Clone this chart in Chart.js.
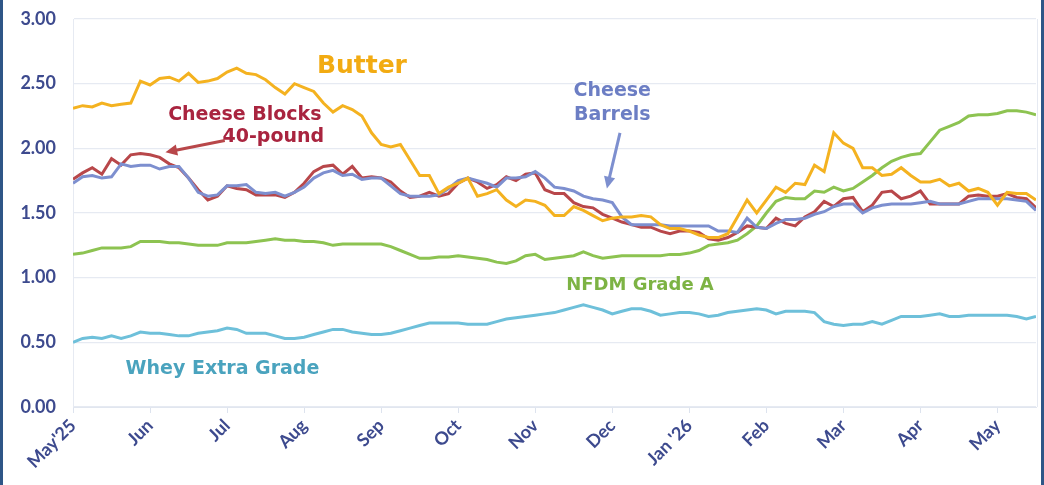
<!DOCTYPE html>
<html>
<head>
<meta charset="utf-8">
<script src="https://cdn.jsdelivr.net/npm/chart.js@4.4.1/dist/chart.umd.min.js"></script>
<style>
  html, body { margin: 0; padding: 0; background: #fff; }
  #frame {
    width: 1038px; height: 485px;
    border-left: 3px solid #2f5687; border-right: 3px solid #2f5687;
    position: relative;
  }
</style>
</head>
<body>
<div id="frame"><canvas id="priceChart" width="1038" height="485"></canvas></div>
<script>
// months since May 1 2025, one point every 1/8 month
const STEP = 0.125;
const monthLabels = ["May'25", "Jun", "Jul", "Aug", "Sep", "Oct", "Nov", "Dec", "Jan '26", "Feb", "Mar", "Apr", "May"];
const yTicks = [0, 0.5, 1, 1.5, 2, 2.5, 3];

const butter = [2.31,2.33,2.32,2.35,2.33,2.34,2.35,2.52,2.49,2.54,
  2.55,2.52,2.58,2.51,2.52,2.54,2.59,2.62,2.58,2.57,
  2.53,2.47,2.42,2.50,2.47,2.44,2.35,2.28,2.33,2.30,
  2.25,2.12,2.03,2.01,2.03,1.91,1.79,1.79,1.65,1.70,
  1.73,1.77,1.63,1.65,1.68,1.60,1.55,1.60,1.59,1.56,
  1.48,1.48,1.55,1.52,1.48,1.44,1.46,1.47,1.47,1.48,
  1.47,1.41,1.38,1.38,1.36,1.33,1.31,1.31,1.34,1.47,
  1.60,1.50,1.60,1.70,1.66,1.73,1.72,1.87,1.82,2.12,
  2.04,2.00,1.85,1.85,1.79,1.80,1.85,1.79,1.74,1.74,
  1.76,1.71,1.73,1.67,1.69,1.66,1.56,1.66,1.65,1.65,1.60];

const cheeseBlocks = [1.76,1.81,1.85,1.80,1.92,1.87,1.95,1.96,1.95,1.93,
  1.88,1.85,1.77,1.68,1.60,1.63,1.71,1.69,1.68,1.64,
  1.64,1.64,1.62,1.66,1.73,1.82,1.86,1.87,1.80,1.86,
  1.77,1.78,1.77,1.74,1.67,1.62,1.63,1.66,1.63,1.65,
  1.73,1.77,1.74,1.69,1.72,1.78,1.75,1.80,1.81,1.68,
  1.65,1.65,1.58,1.55,1.54,1.49,1.46,1.43,1.41,1.39,
  1.39,1.36,1.34,1.36,1.36,1.35,1.30,1.29,1.31,1.35,
  1.40,1.39,1.38,1.46,1.42,1.40,1.47,1.51,1.59,1.55,
  1.61,1.62,1.51,1.56,1.66,1.67,1.61,1.63,1.67,1.57,
  1.57,1.57,1.57,1.63,1.64,1.63,1.63,1.65,1.62,1.61,1.54];

const cheeseBarrels = [1.73,1.78,1.79,1.77,1.78,1.88,1.86,1.87,1.87,1.84,
  1.86,1.86,1.77,1.66,1.63,1.64,1.71,1.71,1.72,1.66,
  1.65,1.66,1.63,1.66,1.70,1.77,1.81,1.83,1.79,1.80,
  1.76,1.77,1.77,1.71,1.65,1.63,1.63,1.63,1.64,1.69,
  1.75,1.77,1.75,1.73,1.70,1.77,1.77,1.78,1.82,1.77,
  1.70,1.69,1.67,1.63,1.61,1.60,1.58,1.47,1.41,1.41,
  1.41,1.41,1.40,1.40,1.40,1.40,1.40,1.36,1.36,1.35,
  1.46,1.39,1.38,1.42,1.45,1.45,1.46,1.49,1.51,1.55,
  1.57,1.57,1.50,1.54,1.56,1.57,1.57,1.57,1.58,1.59,
  1.57,1.57,1.57,1.59,1.61,1.61,1.61,1.61,1.60,1.59,1.52];

const nfdm = [1.18,1.19,1.21,1.23,1.23,1.23,1.24,1.28,1.28,1.28,
  1.27,1.27,1.26,1.25,1.25,1.25,1.27,1.27,1.27,1.28,
  1.29,1.30,1.29,1.29,1.28,1.28,1.27,1.25,1.26,1.26,
  1.26,1.26,1.26,1.24,1.21,1.18,1.15,1.15,1.16,1.16,
  1.17,1.16,1.15,1.14,1.12,1.11,1.13,1.17,1.18,1.14,
  1.15,1.16,1.17,1.20,1.17,1.15,1.16,1.17,1.17,1.17,
  1.17,1.17,1.18,1.18,1.19,1.21,1.25,1.26,1.27,1.29,
  1.34,1.40,1.50,1.59,1.62,1.61,1.61,1.67,1.66,1.70,
  1.67,1.69,1.74,1.79,1.85,1.90,1.93,1.95,1.96,2.05,
  2.14,2.17,2.20,2.25,2.26,2.26,2.27,2.29,2.29,2.28,2.26];

const whey = [0.50,0.53,0.54,0.53,0.55,0.53,0.55,0.58,0.57,0.57,
  0.56,0.55,0.55,0.57,0.58,0.59,0.61,0.60,0.57,0.57,
  0.57,0.55,0.53,0.53,0.54,0.56,0.58,0.60,0.60,0.58,
  0.57,0.56,0.56,0.57,0.59,0.61,0.63,0.65,0.65,0.65,
  0.65,0.64,0.64,0.64,0.66,0.68,0.69,0.70,0.71,0.72,
  0.73,0.75,0.77,0.79,0.77,0.75,0.72,0.74,0.76,0.76,
  0.74,0.71,0.72,0.73,0.73,0.72,0.70,0.71,0.73,0.74,
  0.75,0.76,0.75,0.72,0.74,0.74,0.74,0.73,0.66,0.64,
  0.63,0.64,0.64,0.66,0.64,0.67,0.70,0.70,0.70,0.71,
  0.72,0.70,0.70,0.71,0.71,0.71,0.71,0.71,0.70,0.68,0.70];

const monthPos = butter.map((v, i) => i * STEP);

// text labels on the plot, placed in data units (month, $/lb)
const notes = [
  { text: "Butter", x: 3.75, y: 2.63, color: "#f2ab12", size: 25 },
  { text: "Cheese Blocks", x: 2.23, y: 2.26, color: "#a9243f", size: 19 },
  { text: "40-pound", x: 2.6, y: 2.09, color: "#a9243f", size: 19 },
  { text: "Cheese", x: 7.0, y: 2.44, color: "#6c7ec4", size: 19 },
  { text: "Barrels", x: 7.0, y: 2.26, color: "#6c7ec4", size: 19 },
  { text: "NFDM Grade A", x: 7.36, y: 0.94, color: "#7db344", size: 18 },
  { text: "Whey Extra Grade", x: 1.94, y: 0.29, color: "#4aa3be", size: 19 }
];
const arrows = [
  { from: [1.97, 2.06], to: [1.2, 1.97], color: "#b8474a" },
  { from: [7.1, 2.12], to: [6.93, 1.69], color: "#7d8fcf" }
];

const noteFont = '"Comic Sans MS", "DejaVu Sans", sans-serif';
const tickFont = { family: '"Comic Sans MS", Lato, sans-serif', size: 18, weight: "bold" };
const navy = "#3d4a8e";

const notesPlugin = {
  id: "notes",
  beforeDatasetsDraw(chart) {
    const { ctx, chartArea } = chart;
    ctx.save();
    ctx.strokeStyle = "#e6eaf2";
    ctx.lineWidth = 1;
    ctx.beginPath();
    ctx.moveTo(chartArea.right + 1.5, chartArea.top);
    ctx.lineTo(chartArea.right + 1.5, chartArea.bottom);
    ctx.stroke();
    ctx.restore();
  },
  afterDatasetsDraw(chart) {
    const { ctx } = chart;
    const xs = chart.scales.x, ys = chart.scales.y;
    ctx.save();
    notes.forEach(n => {
      ctx.font = "bold " + n.size + "px " + noteFont;
      ctx.fillStyle = n.color;
      ctx.textAlign = "center";
      ctx.textBaseline = "middle";
      ctx.fillText(n.text, xs.getPixelForValue(n.x), ys.getPixelForValue(n.y));
    });
    arrows.forEach(a => {
      const x1 = xs.getPixelForValue(a.from[0]), y1 = ys.getPixelForValue(a.from[1]);
      const x2 = xs.getPixelForValue(a.to[0]), y2 = ys.getPixelForValue(a.to[1]);
      const ang = Math.atan2(y2 - y1, x2 - x1);
      ctx.strokeStyle = a.color;
      ctx.fillStyle = a.color;
      ctx.lineWidth = 3;
      ctx.beginPath();
      ctx.moveTo(x1, y1);
      ctx.lineTo(x2 - 8 * Math.cos(ang), y2 - 8 * Math.sin(ang));
      ctx.stroke();
      ctx.beginPath();
      ctx.moveTo(x2, y2);
      ctx.lineTo(x2 - 13 * Math.cos(ang - 0.45), y2 - 13 * Math.sin(ang - 0.45));
      ctx.lineTo(x2 - 13 * Math.cos(ang + 0.45), y2 - 13 * Math.sin(ang + 0.45));
      ctx.closePath();
      ctx.fill();
    });
    ctx.restore();
  }
};

function series(label, data, color) {
  return {
    label: label,
    data: data,
    borderColor: color,
    backgroundColor: color,
    borderWidth: 3,
    pointRadius: 0,
    tension: 0,
    fill: false
  };
}

const ctx = document.getElementById("priceChart").getContext("2d");
new Chart(ctx, {
  type: "line",
  data: {
    labels: monthPos,
    datasets: [
      series("Butter", butter, "#f4b220"),
      series("Cheese Barrels", cheeseBarrels, "#7d8fcf"),
      series("Cheese Blocks 40-pound", cheeseBlocks, "#b8474a"),
      series("Whey Extra Grade", whey, "#6ec0da"),
      series("NFDM Grade A", nfdm, "#8dc351")
    ]
  },
  options: {
    responsive: false,
    animation: false,
    layout: { padding: { top: 19, right: 5, left: 0, bottom: 0 } },
    plugins: {
      legend: { display: false },
      tooltip: { enabled: false }
    },
    scales: {
      x: {
        type: "linear",
        min: 0,
        max: 12.5,
        afterFit: s => { s.height = 78; s.paddingRight = 0; },
        grid: { drawOnChartArea: false, drawTicks: true, tickLength: 6, color: "#dde3ee" },
        border: { color: "#e1e6ef", width: 1 },
        ticks: {
          stepSize: 1,
          includeBounds: false,
          autoSkip: false,
          minRotation: 45,
          maxRotation: 45,
          padding: 2,
          color: navy,
          font: tickFont,
          callback: v => Number.isInteger(v) ? monthLabels[v] : ""
        }
      },
      y: {
        min: 0,
        max: 3,
        afterFit: s => { s.width = 70; s.paddingTop = 0; s.paddingBottom = 0; },
        afterBuildTicks: s => { s.ticks = yTicks.map(v => ({ value: v })); },
        grid: { color: "#e6eaf2", lineWidth: 1.2, drawTicks: false },
        border: { display: true, color: "#e6eaf2" },
        ticks: {
          padding: 17,
          color: navy,
          font: tickFont,
          callback: v => v.toFixed(2)
        }
      }
    }
  },
  plugins: [notesPlugin]
});
</script>
</body>
</html>
